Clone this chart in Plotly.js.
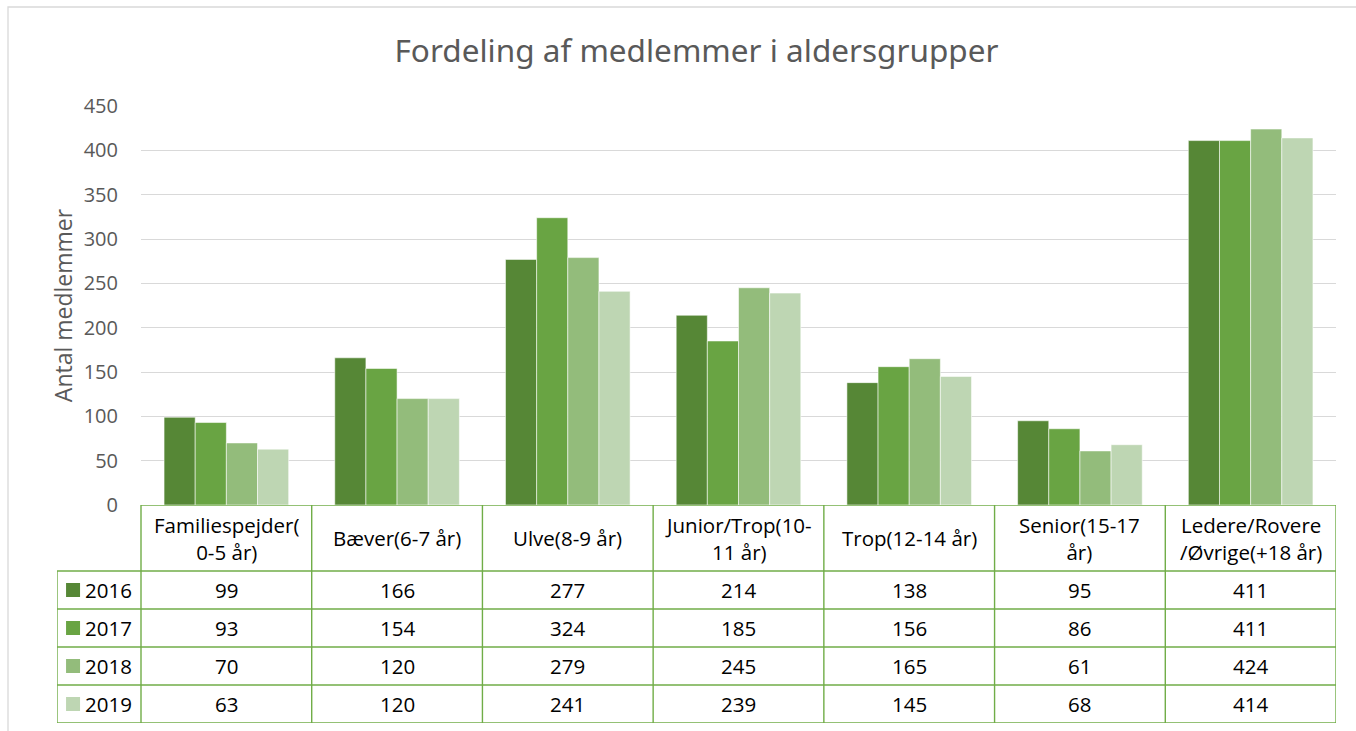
<!DOCTYPE html>
<html>
<head>
<meta charset="utf-8">
<script src="https://cdn.plot.ly/plotly-3.0.1.min.js"></script>
<style>html,body{margin:0;padding:0;background:#fff;}#chart{width:1356px;height:731px;}</style>
</head>
<body>
<div id="chart"></div>
<script>
// ---- data ----
const categories = [
  "Familiespejder(<br>0-5 år)",
  "Bæver(6-7 år)",
  "Ulve(8-9 år)",
  "Junior/Trop(10-<br>11 år)",
  "Trop(12-14 år)",
  "Senior(15-17<br>år)",
  "Ledere/Rovere<br>/Øvrige(+18 år)"
];
const years = ["2016", "2017", "2018", "2019"];
const values2016 = [99, 166, 277, 214, 138, 95, 411];
const values2017 = [93, 154, 324, 185, 156, 86, 411];
const values2018 = [70, 120, 279, 245, 165, 61, 424];
const values2019 = [63, 120, 241, 239, 145, 68, 414];
const yTicks = [0, 50, 100, 150, 200, 250, 300, 350, 400, 450];

// ---- styling ----
const seriesValues = [values2016, values2017, values2018, values2019];
const colors = ["#568736", "#69A443", "#93BC7B", "#BED6B3"];
const tableLine = "#70AD47";
const tableFont = {size: 20.5, color: "#000", family: "Open Sans, Noto Sans, sans-serif"};
const catIdx = categories.map((_, i) => i);

const traces = seriesValues.map((vals, s) => ({
  type: "bar",
  name: years[s],
  x: catIdx,
  y: vals,
  xaxis: "x",
  yaxis: "y",
  marker: {color: colors[s], line: {color: "rgba(255,255,255,0.55)", width: 1}},
  hoverinfo: "y+name"
}));

// table geometry in y2 units (row boundaries, top-down)
const rowEdges = [0, 66, 104, 142, 180, 218];
const legendLeft = -0.5 - 84 / (1195 / 7);

const shapes = [];
const annotations = [];

// outer chart border
shapes.push({type: "rect", xref: "paper", yref: "paper",
  x0: (8 - 57) / 1279, x1: 1.06, y0: -0.05, y1: (723 - 7) / 617,
  line: {color: "#D9D9D9", width: 1.3}, fillcolor: "rgba(0,0,0,0)", layer: "below"});

// horizontal lines of table
rowEdges.forEach((ry, r) => {
  shapes.push({type: "line", xref: "x2", yref: "y2",
    x0: r === 0 ? -0.5 : legendLeft, x1: 6.5, y0: ry, y1: ry,
    line: {color: tableLine, width: 1.4}});
});
// vertical lines
for (let c = -1; c <= 7; c++) {
  const xv = c === -1 ? legendLeft : c - 0.5;
  shapes.push({type: "line", xref: "x2", yref: "y2",
    x0: xv, x1: xv, y0: c === -1 ? rowEdges[1] : 0, y1: rowEdges[5],
    line: {color: tableLine, width: 1.4}});
}

// header labels
categories.forEach((cat, i) => {
  annotations.push({xref: "x2", yref: "y2", x: i, y: (rowEdges[0] + rowEdges[1]) / 2,
    text: cat, showarrow: false, font: tableFont, xanchor: "center", yanchor: "middle"});
});
// value rows + legend column
seriesValues.forEach((vals, s) => {
  const yc = (rowEdges[s + 1] + rowEdges[s + 2]) / 2;
  vals.forEach((v, i) => {
    annotations.push({xref: "x2", yref: "y2", x: i, y: yc, text: String(v),
      showarrow: false, font: tableFont, xanchor: "center", yanchor: "middle"});
  });
  shapes.push({type: "rect", xref: "x2", yref: "y2",
    x0: legendLeft + 0.053, x1: legendLeft + 0.135, y0: yc - 7, y1: yc + 7,
    fillcolor: colors[s], line: {width: 0}});
  annotations.push({xref: "x2", yref: "y2", x: legendLeft + 0.152, y: yc, text: years[s],
    showarrow: false, font: tableFont, xanchor: "left", yanchor: "middle"});
});

const layout = {
  width: 1356, height: 731,
  margin: {l: 57, r: 20, t: 106, b: 8},
  paper_bgcolor: "#fff", plot_bgcolor: "#fff",
  font: {family: "Open Sans, Noto Sans, sans-serif", color: "#595959"},
  title: {text: "Fordeling af medlemmer i aldersgrupper", x: 0.5, xref: "paper", y: 0.93, yanchor: "middle",
    font: {size: 31.5, color: "#595959", family: "Noto Sans, Open Sans, sans-serif"}},
  barmode: "group", bargap: 0.27, bargroupgap: 0,
  showlegend: false,
  xaxis: {domain: [(141 - 57) / 1279, 1], range: [-0.5, 6.5], showticklabels: false,
    showgrid: false, zeroline: false, showline: false, ticks: "", fixedrange: true},
  yaxis: {domain: [218 / 617, 1], range: [0, 450], tickvals: yTicks, autorange: false,
    showgrid: true, gridcolor: "#D9D9D9", gridwidth: 1, zeroline: false, showline: false,
    ticks: "", ticklabelstandoff: 22, tickfont: {size: 20, color: "#595959"},
    title: {text: "Antal medlemmer", font: {size: 23, color: "#595959"}, standoff: 4}},
  xaxis2: {domain: [0, 1], range: [legendLeft, 6.5], anchor: "y2", visible: false, fixedrange: true},
  yaxis2: {domain: [0, 218 / 617], range: [218, 0], anchor: "x2", visible: false, autorange: false, fixedrange: true},
  shapes: shapes,
  annotations: annotations
};

// invisible trace to instantiate the table subplot
traces.push({type: "scatter", x: [0], y: [0], xaxis: "x2", yaxis: "y2", mode: "markers",
  marker: {opacity: 0}, hoverinfo: "skip", showlegend: false});

Plotly.newPlot("chart", traces, layout, {displayModeBar: false, staticPlot: false});
</script>
</body>
</html>
